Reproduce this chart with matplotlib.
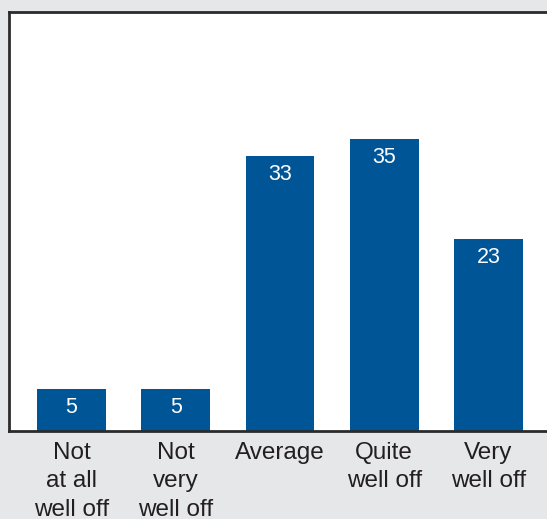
import matplotlib
matplotlib.use("Agg")
import matplotlib.pyplot as plt

categories = ["Not\nat all\nwell off", "Not\nvery\nwell off", "Average", "Quite\nwell off", "Very\nwell off"]
values = [5, 5, 33, 35, 23]

plt.rcParams["font.family"] = ["Liberation Sans", "DejaVu Sans"]

fig = plt.figure(figsize=(5.47, 5.19), dpi=100, facecolor="#e6e7e8")
# plot area runs off the right edge of the figure, like the source
ax = fig.add_axes([9 / 547, 88 / 519, 1.0, 419 / 519])
ax.set_facecolor("white")

x = list(range(len(categories)))
ax.bar(x, values, width=0.66, color="#005596", zorder=2)
for xi, v in zip(x, values):
    ax.text(xi, v - 2.2, str(v), ha="center", va="center", color="white", fontsize=15.5)

ax.set_xlim(-0.6, 4.647)
ax.set_ylim(0, 50.3)
ax.set_xticks(x)
ax.set_xticklabels(categories, fontsize=17.5, color="#231f20", linespacing=1.37, va="top")
ax.tick_params(axis="x", length=0, pad=8)
ax.set_yticks([])
ax.spines["right"].set_visible(False)
for s in ["left", "top", "bottom"]:
    ax.spines[s].set_color("#2b2b2b")
    ax.spines[s].set_linewidth(2)

fig.savefig("out.png", dpi=100, facecolor=fig.get_facecolor())
